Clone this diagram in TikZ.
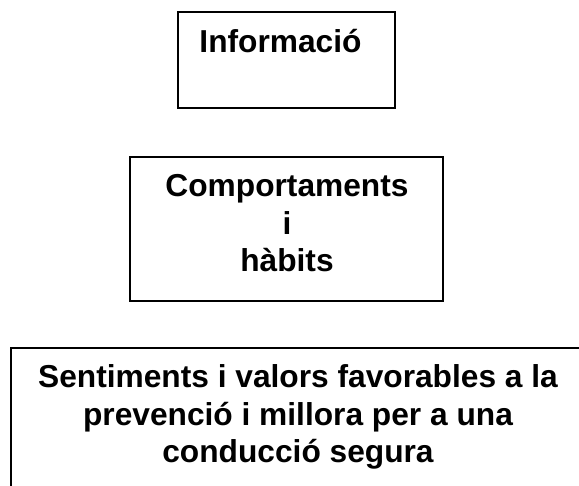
\documentclass[tikz,border=0pt]{standalone}
\usepackage{fontspec}
\setmainfont{Liberation Sans}
\begin{document}
\begin{tikzpicture}[x=1pt,y=1pt,
  box/.style={draw=black,line width=1.8pt,rectangle,inner sep=0pt},
  lbl/.style={font=\fontsize{31.7}{37.5}\selectfont\bfseries,align=center,inner sep=0pt,anchor=base}]
\useasboundingbox (0,0) rectangle (579,486);
\begin{scope}
\clip (0,0) rectangle (579,486);
\node[box,minimum width=217,minimum height=96] (info) at (286.5,426) {};
\node[box,minimum width=313,minimum height=144] (comp) at (286.5,257) {};
\node[box,minimum width=589,minimum height=158] (sent) at (305.5,59) {};
\end{scope}
\node[lbl] (infot) at (280.5,433) {Informació};
\node[lbl] (compt) at (287,214) {Comportaments\\i\\hàbits};
\node[lbl] (sentt) at (298,23) {Sentiments i valors favorables a la\\prevenció i millora per a una\\conducció segura};
\end{tikzpicture}
\end{document}
